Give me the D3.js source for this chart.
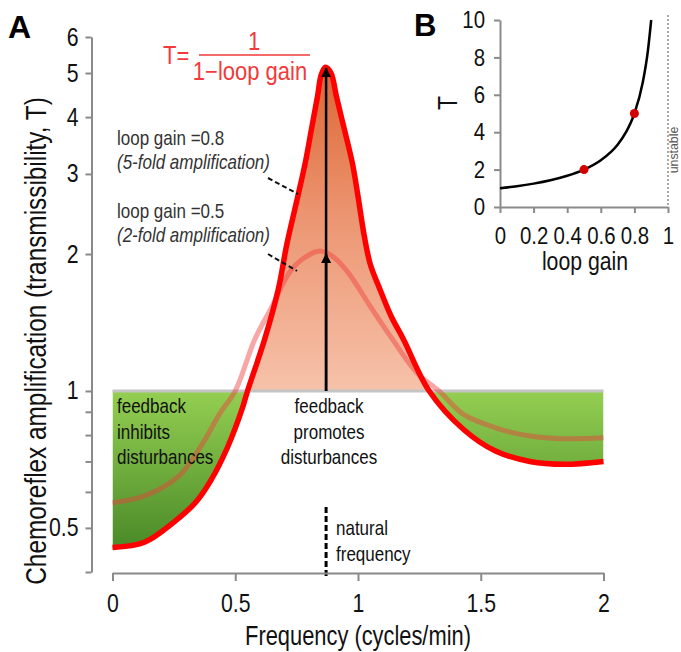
<!DOCTYPE html>
<html>
<head>
<meta charset="utf-8">
<script src="https://cdn.jsdelivr.net/npm/d3@7"></script>
<style>
  body { margin: 0; background: #fff; }
  svg text { font-family: "Liberation Sans", Arial, sans-serif; }
</style>
</head>
<body>
<div id="chart"></div>
<script>
// panel A: transmissibility vs frequency
const freqHigh = [0, 0.13, 0.25, 0.34, 0.40, 0.47, 0.53, 0.55, 0.62, 0.675, 0.71, 0.755, 0.785, 0.81, 0.835, 0.85, 0.867, 0.89, 0.912, 0.945, 0.977, 1.0, 1.025, 1.05, 1.09, 1.135, 1.185, 1.29, 1.43, 1.56, 1.70, 1.84, 2.0]
const tHigh = [0.453, 0.465, 0.515, 0.57, 0.635, 0.755, 0.92, 1.0, 1.30, 1.67, 2.1, 2.68, 3.17, 3.75, 4.44, 4.95, 5.15, 5.0, 4.44, 3.75, 3.17, 2.68, 2.2, 1.9, 1.67, 1.46, 1.30, 1.0, 0.823, 0.738, 0.70, 0.69, 0.70]
const freqLow = [0, 0.13, 0.27, 0.36, 0.44, 0.50, 0.58, 0.65, 0.72, 0.78, 0.845, 0.90, 0.96, 1.05, 1.14, 1.24, 1.33, 1.43, 1.56, 1.70, 1.84, 2.0]
const tLow = [0.568, 0.588, 0.65, 0.756, 0.897, 1.0, 1.30, 1.535, 1.82, 1.96, 2.03, 1.97, 1.82, 1.535, 1.30, 1.096, 1.0, 0.888, 0.83, 0.796, 0.785, 0.789]
const naturalFreq = 0.87
const arrowTops = [5.12, 2.0]
const xTicksA = [0, 0.5, 1, 1.5, 2]
const yTicksA = [0.4, 0.5, 0.6, 0.7, 0.8, 0.9, 1, 2, 3, 4, 5, 6]
const yLabelsA = [0.5, 1, 2, 3, 4, 5, 6]

// panel B: T = 1/(1 - loop gain)
const gainB = [0, 0.1, 0.2, 0.3, 0.4, 0.5, 0.6, 0.7, 0.75, 0.8, 0.85, 0.88, 0.9]
const tB = [1, 1.11, 1.25, 1.43, 1.67, 2, 2.5, 3.33, 4, 5, 6.67, 8.33, 10]
const gainDots = [0.5, 0.8]
const tDots = [2, 5]
const xTicksB = [0, 0.2, 0.4, 0.6, 0.8, 1]
const yTicksB = [0, 2, 4, 6, 8, 10]

const width = 681, height = 652
const axisGrey = "#8a8a8a"
const squeeze = 0.85   // the figure's font is a condensed Arial

const svg = d3.select("#chart").append("svg")
  .attr("width", width)
  .attr("height", height)

const defs = svg.append("defs")

// condensed text helper
const txt = (str, xPos, yPos, size, o = {}) => {
  const rot = o.rotate ? ` rotate(${o.rotate})` : ""
  return svg.append("text")
    .attr("transform", `translate(${xPos},${yPos})${rot} scale(${o.sx || squeeze},1)`)
    .attr("text-anchor", o.anchor || "start")
    .attr("font-size", size)
    .attr("font-style", o.italic ? "italic" : null)
    .attr("fill", o.fill || "#111")
    .text(str)
}

const styleAxis = (g, size) => {
  g.attr("font-family", null)
  g.select(".domain").attr("stroke", axisGrey).attr("stroke-width", 2)
  g.selectAll(".tick line").attr("stroke", axisGrey).attr("stroke-width", 2)
  g.selectAll(".tick text")
    .attr("font-size", size).attr("fill", "#111")
    .attr("transform", function () {
      const xa = +this.getAttribute("x") || 0
      return `translate(${xa},0) scale(${squeeze},1)`
    })
    .attr("x", 0)
}

const x = d3.scaleLinear().domain([0, 2]).range([112.5, 603.5])
const y = d3.scaleLog().domain([0.4, 6]).range([572, 37])

// gradients
const gOrange = defs.append("linearGradient").attr("id", "orange")
  .attr("gradientUnits", "userSpaceOnUse")
  .attr("x1", 0).attr("x2", 0).attr("y1", y(5.15)).attr("y2", y(1))
gOrange.append("stop").attr("offset", 0).attr("stop-color", "#dc6634")
gOrange.append("stop").attr("offset", 0.45).attr("stop-color", "#ec9470")
gOrange.append("stop").attr("offset", 1).attr("stop-color", "#f6c2aa")

const gGreen = defs.append("linearGradient").attr("id", "green")
  .attr("gradientUnits", "userSpaceOnUse")
  .attr("x1", 0).attr("x2", 0).attr("y1", y(1)).attr("y2", y(0.45))
gGreen.append("stop").attr("offset", 0).attr("stop-color", "#94cf52")
gGreen.append("stop").attr("offset", 1).attr("stop-color", "#4a8a28")

defs.append("clipPath").attr("id", "above")
  .append("rect").attr("x", x(0)).attr("y", 0).attr("width", x(2) - x(0)).attr("height", y(1))
defs.append("clipPath").attr("id", "below")
  .append("rect").attr("x", x(0)).attr("y", y(1)).attr("width", x(2) - x(0)).attr("height", 300)

defs.append("marker").attr("id", "head")
  .attr("viewBox", "0 0 10 10")
  .attr("refX", 9).attr("refY", 5)
  .attr("markerUnits", "userSpaceOnUse")
  .attr("markerWidth", 10).attr("markerHeight", 10)
  .attr("orient", "auto")
  .append("path").attr("d", "M0,0L10,5L0,10z").attr("fill", "#000")

const high = freqHigh.map((f, i) => [f, tHigh[i]])
const low = freqLow.map((f, i) => [f, tLow[i]])

const area = d3.area()
  .x(d => x(d[0]))
  .y0(y(1))
  .y1(d => y(d[1]))
  .curve(d3.curveCatmullRom)

const line = d3.line()
  .x(d => x(d[0]))
  .y(d => y(d[1]))
  .curve(d3.curveCatmullRom)

svg.append("path").datum(high).attr("d", area)
  .attr("fill", "url(#orange)").attr("clip-path", "url(#above)")
svg.append("path").datum(high).attr("d", area)
  .attr("fill", "url(#green)").attr("clip-path", "url(#below)")

svg.append("line")
  .attr("x1", x(0)).attr("x2", x(2))
  .attr("y1", y(1)).attr("y2", y(1))
  .attr("stroke", "#c4c4c4").attr("stroke-width", 3)

svg.append("path").datum(low).attr("d", line)
  .attr("fill", "none").attr("stroke", "#f03c3c")
  .attr("stroke-opacity", 0.45).attr("stroke-width", 5)

svg.append("path").datum(high).attr("d", line)
  .attr("fill", "none").attr("stroke", "#ff0000").attr("stroke-width", 5.5)

// arrows at the natural frequency
svg.selectAll(".arrow").data(arrowTops).enter().append("line")
  .attr("class", "arrow")
  .attr("x1", x(naturalFreq)).attr("x2", x(naturalFreq))
  .attr("y1", y(1)).attr("y2", d => y(d))
  .attr("stroke", "#000").attr("stroke-width", 2.5)
  .attr("marker-end", "url(#head)")

svg.append("line")
  .attr("x1", x(naturalFreq)).attr("x2", x(naturalFreq))
  .attr("y1", 507).attr("y2", y(0.4) + 4)
  .attr("stroke", "#000").attr("stroke-width", 3)
  .attr("stroke-dasharray", "6,3")

// axes A
const xAxisA = svg.append("g")
  .attr("transform", `translate(0,${y(0.4) + 1})`)
  .call(d3.axisBottom(x).tickValues(xTicksA).tickSize(8).tickSizeOuter(0).tickPadding(13)
    .tickFormat(d => d))
const yAxisA = svg.append("g")
  .attr("transform", `translate(${x(0) - 21},0)`)
  .call(d3.axisLeft(y).tickValues(yTicksA).tickSize(6).tickSizeOuter(0).tickPadding(7)
    .tickFormat(d => yLabelsA.includes(d) ? d : ""))
styleAxis(xAxisA, 25)
styleAxis(yAxisA, 25)

txt("Frequency (cycles/min)", x(1), 645, 27, { anchor: "middle", sx: 0.81 })
txt("Chemoreflex amplification (transmissibility, T)", 46, 341, 29, { anchor: "middle", rotate: -90, sx: 0.84 })

svg.append("text")
  .attr("x", 8).attr("y", 38)
  .attr("font-size", 32).attr("font-weight", "bold")
  .text("A")

// formula
const red = "#f23a3a"
txt("T=", 163, 64, 25, { fill: red, sx: 0.88 })
txt("1", 254, 50, 25, { fill: red, anchor: "middle", sx: 0.88 })
svg.append("line").attr("x1", 199).attr("x2", 310).attr("y1", 55).attr("y2", 55)
  .attr("stroke", red).attr("stroke-width", 1.5)
txt("1\u2212loop gain", 250, 80, 25, { fill: red, anchor: "middle", sx: 0.88 })

// loop gain notes
const notes = [
  { t: "loop gain =0.8", sub: "(5-fold amplification)", y: 145, lead: [[268, 178], [298, 194]] },
  { t: "loop gain =0.5", sub: "(2-fold amplification)", y: 218, lead: [[268, 254], [297, 271]] }
]
notes.forEach(n => {
  txt(n.t, 117, n.y, 20, { fill: "#333" })
  txt(n.sub, 117, n.y + 24, 20, { fill: "#333", italic: true })
  svg.append("line")
    .attr("x1", n.lead[0][0]).attr("y1", n.lead[0][1])
    .attr("x2", n.lead[1][0]).attr("y2", n.lead[1][1])
    .attr("stroke", "#111").attr("stroke-width", 2).attr("stroke-dasharray", "5,3")
})

const block = (lines, xPos, yPos, anchor) => {
  lines.forEach((s, i) => txt(s, xPos, yPos + i * 25.5, 20, { anchor }))
}
block(["feedback", "inhibits", "disturbances"], 117, 413, "start")
block(["feedback", "promotes", "disturbances"], 329, 413, "middle")
block(["natural", "frequency"], 336, 535, "start")

// panel B
const xb = d3.scaleLinear().domain([0, 1]).range([500, 668])
const yb = d3.scaleLinear().domain([0, 10]).range([207, 20])

const xAxisB = svg.append("g")
  .attr("transform", `translate(0,${yb(0)})`)
  .call(d3.axisBottom(xb).tickValues(xTicksB).tickSize(6).tickSizeOuter(0).tickPadding(14)
    .tickFormat(d => d === 0 || d === 1 ? d : d.toFixed(1)))
const yAxisB = svg.append("g")
  .attr("transform", `translate(${xb(0)},0)`)
  .call(d3.axisLeft(yb).tickValues(yTicksB).tickSize(6).tickSizeOuter(0).tickPadding(9))
styleAxis(xAxisB, 24)
styleAxis(yAxisB, 24)

svg.append("line")
  .attr("x1", xb(1)).attr("x2", xb(1)).attr("y1", 15).attr("y2", yb(0))
  .attr("stroke", "#555").attr("stroke-width", 1).attr("stroke-dasharray", "2,2")

txt("unstable", 677.5, 150, 13, { anchor: "middle", rotate: -90, fill: "#555", sx: 0.95 })

svg.append("path")
  .datum(gainB.map((g, i) => [g, tB[i]]))
  .attr("d", d3.line().x(d => xb(d[0])).y(d => yb(d[1])).curve(d3.curveMonotoneX))
  .attr("fill", "none").attr("stroke", "#000").attr("stroke-width", 2.5)

svg.selectAll(".dot").data(gainDots).enter().append("circle")
  .attr("class", "dot")
  .attr("cx", d => xb(d)).attr("cy", (d, i) => yb(tDots[i]))
  .attr("r", 4.5).attr("fill", "#d40000")

txt("loop gain", 585, 270, 25, { anchor: "middle" })
txt("T", 457, 103, 27, { anchor: "middle", rotate: -90 })

svg.append("text")
  .attr("x", 414).attr("y", 36)
  .attr("font-size", 31).attr("font-weight", "bold")
  .text("B")
</script>
</body>
</html>
